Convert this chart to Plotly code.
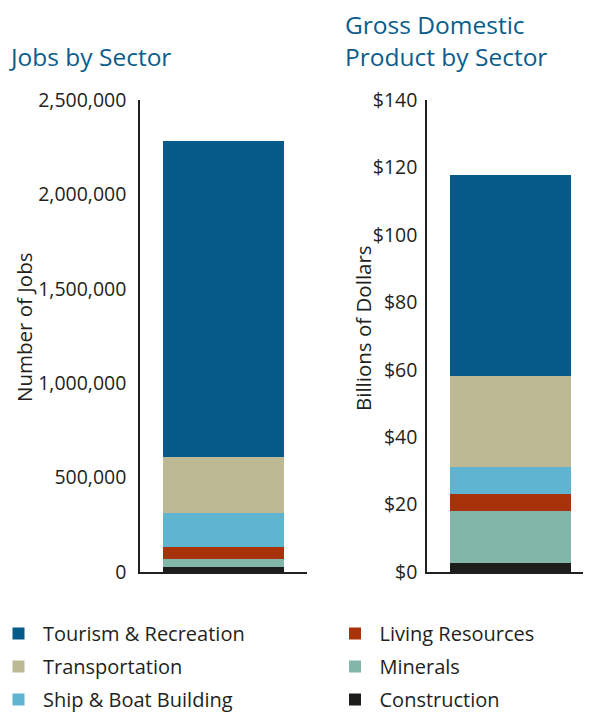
import plotly.graph_objects as go

# sectors, listed bottom of the stack first
SECTORS = ["Construction", "Minerals", "Living Resources", "Ship & Boat Building",
           "Transportation", "Tourism & Recreation"]
COLORS = ["#1d1e1c", "#82b6a9", "#a8330b", "#5fb4cf", "#bdb995", "#045b8a"]

# values
JOBS = [28000, 41000, 65000, 177000, 296000, 1675000]
GDP = [2.7, 15.4, 5.0, 8.0, 27.0, 59.7]

JOBS_TICKS = [0, 500000, 1000000, 1500000, 2000000, 2500000]
GDP_TICKS = [0, 20, 40, 60, 80, 100, 120, 140]
GDP_TICK_TEXT = ["$0", "$20", "$40", "$60", "$80", "$100", "$120", "$140"]

# legend placement: (which legend, rank inside it)
LEGEND_SLOT = {
    "Tourism & Recreation": ("legend", 1),
    "Transportation": ("legend", 2),
    "Ship & Boat Building": ("legend", 3),
    "Living Resources": ("legend2", 1),
    "Minerals": ("legend2", 2),
    "Construction": ("legend2", 3),
}

FONT = "Open Sans"
TEXT = "#231f20"
TITLE_BLUE = "#0b5d8c"
W, H = 591, 713
OFF = 8  # page body margin: the figure starts 8px in from the corner

fig = go.Figure()

for name, color, jobs, gdp in zip(SECTORS, COLORS, JOBS, GDP):
    leg, rank = LEGEND_SLOT[name]
    fig.add_trace(go.Bar(
        x=[0.5], y=[jobs], width=0.725, name=name, marker=dict(color=color, line=dict(width=0)),
        xaxis="x", yaxis="y", legend=leg, legendrank=rank, legendgroup=name,
    ))
    fig.add_trace(go.Bar(
        x=[0.5], y=[gdp], width=0.725, name=name, marker=dict(color=color, line=dict(width=0)),
        xaxis="x2", yaxis="y2", legendgroup=name, showlegend=False,
    ))


def px_x(p):
    return (p - OFF) / W


def px_y(p):
    return 1 - (p - OFF) / H


axis_common = dict(showline=True, linecolor=TEXT, linewidth=1.5, showgrid=False,
                   zeroline=False, ticks="", fixedrange=True)
legend_common = dict(xanchor="left", y=px_y(614), yanchor="top", traceorder="grouped",
                     tracegroupgap=4, itemwidth=39, font=dict(size=20, color=TEXT),
                     bgcolor="rgba(0,0,0,0)")

fig.update_layout(
    width=W, height=H,
    margin=dict(l=0, r=0, t=0, b=0, autoexpand=False),
    paper_bgcolor="white", plot_bgcolor="white",
    barmode="stack",
    font=dict(family=FONT, color=TEXT, size=19.5),
    xaxis=dict(domain=[px_x(140), px_x(307)], range=[0, 1], showticklabels=False, anchor="y", **axis_common),
    yaxis=dict(domain=[px_y(572), px_y(100)], range=[0, 2500000], tickvals=JOBS_TICKS,
               tickformat=",", ticklabelstandoff=8, anchor="x", **axis_common),
    # right panel: bar spans 451..572 px, axis runs past the right edge
    xaxis2=dict(domain=[px_x(427), px_x(594)], range=[0, 1], showticklabels=False, anchor="y2", **axis_common),
    yaxis2=dict(domain=[px_y(572), px_y(100)], range=[0, 140], tickvals=GDP_TICKS,
                ticktext=GDP_TICK_TEXT, ticklabelstandoff=4, anchor="x2", **axis_common),
    legend=dict(x=px_x(-6), **legend_common),
    legend2=dict(x=px_x(330.5), **legend_common),
)

title_font = dict(family=FONT, size=24.5, color=TITLE_BLUE)
annotations = [
    dict(text="Jobs by Sector", x=px_x(8), y=px_y(56)),
    dict(text="Gross Domestic", x=px_x(344), y=px_y(24.5)),
    dict(text="Product by Sector", x=px_x(344), y=px_y(56)),
]
for a in annotations:
    fig.add_annotation(xref="paper", yref="paper", xanchor="left", yanchor="middle",
                       showarrow=False, font=title_font, borderpad=0, **a)

for text, x in [("Number of Jobs", 24), ("Billions of Dollars", 363)]:
    fig.add_annotation(text=text, xref="paper", yref="paper", x=px_x(x), y=px_y(328),
                       textangle=-90, showarrow=False, xanchor="center", yanchor="middle",
                       font=dict(family=FONT, size=20.5, color=TEXT))

fig.write_html("out.html")
